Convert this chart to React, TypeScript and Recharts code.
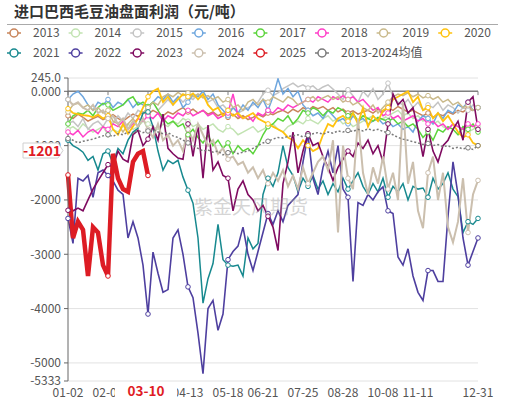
import React from 'react';
import { CartesianGrid, Line, LineChart, ReferenceLine, XAxis, YAxis } from 'recharts';

// x index: one point every ~5 px, 01-02 .. 12-31
const N = 83;
const TICK_IDX = [0, 8, 16, 24, 32, 39, 47, 55, 63, 70, 82];
const TICK_LABELS = ['01-02', '02-05', '03-10', '04-13', '05-18', '06-21', '07-25', '08-28', '10-08', '11-11', '12-31'];
const Y_TICKS = [245, 0, -1000, -2000, -3000, -4000, -5000, -5333];
const LATEST = -1201;

const Y2013 = [
  -450, -500, -420, -480, -550, -500, -460, -520, -480, -430,
  -500, -550, -480, -420, -460, -380, -420, -350, -400, -450,
  -380, -420, -350, -300, -380, -330, -400, -350, -420, -380,
  -450, -400, -480, -420, -500, -450, -520, -480, -430, -470,
  -400, -430, -380, -350, -400, -330, -380, -300, -350, -280,
  -320, -280, -350, -300, -380, -330, -400, -360, -420, -380,
  -350, -400, -330, -380, -300, -350, -280, -330, -380, -350,
  -400, -450, -400, -480, -420, -450, -380, -420, -350, -380,
  -320, -350, -300,
];
const Y2014 = [
  -700, -650, -720, -600, -680, -750, -700, -650, -800, -700,
  -750, -650, -600, -700, -650, -550, -600, -650, -700, -600,
  -650, -550, -600, -500, -550, -650, -600, -700, -650, -600,
  -700, -750, -650, -700, -800, -750, -700, -650, -750, -700,
  -650, -600, -700, -750, -650, -600, -550, -600, -500, -550,
  -600, -500, -450, -550, -500, -600, -550, -650, -600, -550,
  -500, -450, -550, -500, -450, -400, -350, -450, -400, -500,
  -450, -550, -500, -600, -550, -650, -700, -600, -650, -700,
  -750, -700, -650,
];
const Y2015 = [
  -600, -550, -650, -500, -700, -600, -550, -650, -500, -600,
  -450, -550, -400, -500, -350, -400, -300, -200, -350, -250,
  -150, -250, -100, -200, -100, -150, -50, -100, -200, -150,
  -300, -250, -350, -300, -400, -350, -300, -250, -200, -50,
  20, -80, -30, 50, 100, 150, 80, 120, 60, 100,
  20, 80, 120, 40, -50, -150, 30, -80, -200, 0,
  -100, 50, -150, -50, 150, -100, -200, -250, -150, -300,
  -200, -350, -250, -300, -200, -350, -250, -300, -400, -300,
  -350, -250, -300,
];
const Y2016 = [
  -150, -50, 0, -100, -250, -350, -200, -250, -150, -300,
  -200, -250, -150, -300, -200, -250, -300, -200, -100, -150,
  -50, -200, -100, -300, -200, -50, -100, 0, -150, -50,
  -250, -350, -450, -300, -400, -250, -350, -200, -300, -150,
  -350, -100, 230, -50, 50, -100, 0, -250, -350, -450,
  -400, -500, -350, -450, -550, -500, -600, -450, -550, -500,
  -600, -550, -500, -600, -550, -650, -600, -700, -650, -750,
  -550, -450, -500, -600, -400, -500, -350, -400, -250, -300,
  -200, -350, -300,
];
const Y2017 = [
  -600, -450, -400, -420, -350, -450, -300, -220, -250, -350,
  -300, -250, -150, -100, -250, -200, -280, -200, -350, -500,
  -600, -550, -650, -600, -800, -700, -850, -950, -800, -1000,
  -900, -1050, -950, -1150, -1000, -1100, -1050, -1150, -1000, -800,
  -650, -600, -500, -550, -450, -600, -500, -350, -400, -300,
  -350, -450, -350, -400, -300, -350, -450, -400, -550, -450,
  -500, -550, -480, -520, -550, -500, -600, -550, -650, -600,
  -700, -850, -750, -900, -700, -750, -650, -700, -800, -650,
  -700, -600, -750,
];
const Y2018 = [
  -750, -800, -720, -840, -750, -700, -780, -650, -700, -600,
  -650, -550, -700, -600, -500, -550, -450, -500, -400, -550,
  -450, -500, -400, -450, -350, -450, -400, -350, -450, -400,
  -500, -450, -400, -50, -450, -500, -450, -550, -400, -450,
  -350, -400, -300, -350, -250, -300, -250, -200, -150, -200,
  -100, -150, -200, -100, -150, -80, -150, -100, -200, -150,
  -250, -350, -300, -450, -400, -500, -450, -550, -500, -450,
  -550, -500, -600, -550, -650, -600, -700, -600, -650, -700,
  -600, -650, -600,
];
const Y2019 = [
  -380, -250, -220, -300, -250, -350, -300, -400, -350, -550,
  -600, -750, -600, -500, -650, -400, -300, -200, -250, -100,
  -50, -100, -20, -80, -30, -100, -50, -120, -80, -150,
  -100, -200, -150, -300, -250, -350, -200, -150, -250, -150,
  -200, -100, -150, -200, -100, -150, -250, -200, -150, -100,
  -180, -120, -80, -150, -100, -200, -150, -250, -200, -300,
  -350, -250, -400, -300, -200, -100, -50, -80, -30, -100,
  -50, -120, -80, -150, -100, -200, -150, -250, -200, -300,
  -250, -350, -300,
];
const Y2020 = [
  -320, -400, -420, -440, -450, -480, -430, -500, -450, -700,
  -800, -600, -780, -650, -500, -300, -100, 0, 50, -200,
  -100, -250, -150, -50, -100, -40, -150, -50, -250, -350,
  -300, -450, -350, -450, -400, -500, -450, -400, -500, -550,
  -600, -650, -700, -750, -850, -900, -1050, -900, -1000, -1100,
  -1050, -800, -600, -650, -500, -450, -550, -400, -600, -300,
  -650, -450, -550, -350, -300, -150, -100, -50, 0, -200,
  -100, -350, -300, -500, -400, -550, -450, -600, -750, -850,
  -800, -950, -1000,
];
const Y2021 = [
  -900, -1000, -1050, -1120, -1270, -1200, -1450, -1150, -1100, -1330,
  -1050, -1150, -900, -750, -680, -400, -380, -650, -1100, -1450,
  -1270, -1330, -1270, -1580, -1820, -2060, -2700, -3900, -3450, -3170,
  -2450, -3100, -3200, -3220, -3200, -3400, -2700, -2900, -2800, -1900,
  -1600, -1750, -1500, -1000, -1400, -1550, -1850, -1600, -1750, -1550,
  -1800, -1650, -1900, -1700, -1850, -1600, -1800, -1650, -1500, -1750,
  -1900, -1700, -1850, -1600, -1950, -1750, -1850, -1700, -2000, -1750,
  -1800, -1780, -1950, -1600, -1800, -1700, -1500, -1800, -1940, -2600,
  -2400, -2450, -2340,
];
const Y2022 = [
  -2340, -2800, -1600, -1650, -1550, -1950, -1500, -1450, -1550, -1650,
  -1820, -1900, -2700, -2400, -2700, -3200, -4100, -2960, -3350, -3700,
  -3650, -2700, -2550, -3000, -3600, -3800, -4450, -5200, -4000, -3850,
  -4400, -4100, -3100, -2950, -2850, -2500, -3000, -3300, -2950, -2600,
  -2250, -2450, -2200, -2400, -2100, -2000, -1900, -1300, -800, -1600,
  -1900, -1400, -1100, -1500, -1000, -1800, -1950, -3500, -2050, -2100,
  -1900, -2000, -1850, -1760, -2200, -2250, -3050, -3200, -2900, -3400,
  -3700, -3850, -3300, -3300, -3500, -3500, -2300, -1300, -1900, -2700,
  -3200, -2950, -2700,
];
const Y2023 = [
  -2190, -2200, -2150, -2200, -2000, -1800, -1650, -1500, -1350, -1400,
  -1100, -1250, -1300, -800, -720, -1000, -880, -650, -900, -420,
  -1050, -1150, -1230, -1250, -600, -1200, -620, -1600, -620, -1450,
  -1300, -1550, -1600, -2200, -1800, -1650, -1900, -2000, -2200, -2100,
  -2300, -2500, -2930, -1700, -1300, -750, -1500, -1100, -780, -1000,
  -950, -1200, -1400, -1640, -1400, -1250, -1100, -1200, -950, -1050,
  -900, -1150, -1000, -1300, -600, -50, -250, -150, -400, -300,
  -700, -1200, -700, -1100, -1300, -1000, -900, -700, -550, -900,
  -200, -100, -700,
];
const Y2024 = [
  -150, -250, -200, -300, -350, -250, -400, -350, -500, -450,
  -600, -500, -700, -550, -650, -500, -700, -850, -600, -900,
  -800, -1000, -900, -1100, -700, -900, -600, -800, -1000, -900,
  -1150, -1050, -1250, -1200, -1350, -1300, -1500, -1400, -1600, -1450,
  -1700, -1500, -1650, -1450, -1750, -1550, -1800, -1400, -1700, -1500,
  -1300, -1200, -1450, -900, -2600, -1000, -1600, -1800, -500, -1500,
  -1900, -1400, -1700, -1200, -1800, -1500, -2000, -200, -1700, -1300,
  -2200, -2520, -1500, -1200, -2000, -1500, -2500, -2780, -2400, -1600,
  -2600, -1900, -1640,
];
const Y2025 = [
  -1540, -2700, -2400, -2550, -3400, -2500, -2600, -3200, -3400, -1150,
  -1600, -1800, -1850, -1300, -1150, -1100, -1550,
];
const AVG = [
  -870, -900, -950, -920, -900, -880, -850, -820, -800, -830,
  -780, -800, -750, -780, -720, -760, -730, -700, -750, -780,
  -760, -820, -850, -900, -950, -1000, -1050, -1100, -1080, -1120,
  -1100, -1170, -1130, -1100, -1150, -1120, -1100, -1050, -1000, -950,
  -920, -880, -850, -860, -830, -820, -800, -840, -810, -780,
  -760, -790, -750, -770, -730, -750, -720, -740, -700, -730,
  -690, -720, -700, -740, -760, -800, -850, -880, -900, -930,
  -950, -980, -960, -1000, -980, -1020, -1000, -1050, -1030, -1060,
  -1040, -1070, -1000,
];

const SERIES = [
  { key: '2013', color: '#c8845a', values: Y2013, width: 1.5 },
  { key: '2014', color: '#c2e3b2', values: Y2014, width: 1.5 },
  { key: '2015', color: '#c4c4c4', values: Y2015, width: 1.5 },
  { key: '2016', color: '#6ea6de', values: Y2016, width: 1.5 },
  { key: '2017', color: '#5cd43c', values: Y2017, width: 1.5 },
  { key: '2018', color: '#ff3fc8', values: Y2018, width: 1.5 },
  { key: '2019', color: '#c9b98a', values: Y2019, width: 1.5 },
  { key: '2020', color: '#ffc20e', values: Y2020, width: 1.8 },
  { key: '2021', color: '#17898f', values: Y2021, width: 1.5 },
  { key: '2022', color: '#4e3f9f', values: Y2022, width: 1.6 },
  { key: '2023', color: '#7f0b60', values: Y2023, width: 1.6 },
  { key: '2024', color: '#cbbfae', values: Y2024, width: 2 },
  { key: '2025', color: '#dd1c24', values: Y2025, width: 4.5 },
  { key: '2013-2024均值', color: '#7a7a7a', values: AVG, width: 1.5, dash: '2 2' },
];

const data = Array.from({ length: N }, (_, i) => {
  const row: any = { i };
  SERIES.forEach((s) => {
    row[s.key] = i < s.values.length ? s.values[i] : null;
  });
  return row;
});

const dotFor = (color: string, last: number) => (props: any) => {
  const { cx, cy, index } = props;
  if (cy == null || !(index % 8 === 0 || index === last)) return <g key={index} />;
  return <circle key={index} cx={cx} cy={cy} r={2.3} fill="#fff" stroke={color} strokeWidth={1} />;
};

const fmtY = (v: number) => (v === 245 ? '245.0' : v === 0 ? '0.000' : String(v));
const fmtX = (v: number) => (v === 16 ? '' : TICK_LABELS[TICK_IDX.indexOf(v)] ?? '');

function Overlay() {
  return (
    <svg width={510} height={399} style={{ position: 'absolute', left: 0, top: 0, pointerEvents: 'none' }}>
      <text x={14} y={16.5} fontSize={15} fontWeight="bold" fill="#333">进口巴西毛豆油盘面利润（元/吨）</text>
      <line x1={7} x2={498} y1={24.5} y2={24.5} stroke="#aaa" />
      {SERIES.map((s, k) => {
        const x0 = 7 + (k % 8) * 61.6;
        const cy = k < 8 ? 33 : 53;
        return (
          <g key={s.key}>
            <line x1={x0} x2={x0 + 14} y1={cy} y2={cy} stroke={s.color} strokeWidth={1.5} />
            <circle cx={x0 + 7} cy={cy} r={4} fill="#fff" stroke={s.color} strokeWidth={1.5} />
            <text x={x0 + 26} y={cy + 4} fontSize={12} fill="#555">{s.key}</text>
          </g>
        );
      })}
      <text x={194} y={214} fontSize={19} fill="#999" opacity={0.4}>紫金天风期货</text>
      <path d="M23,143 H58 L63,150.5 L58,158 H23 Z" fill="#fff" stroke="#d0d0d0" />
      <text x={42} y={155.5} textAnchor="middle" fontSize={14} fontWeight="bold" fill="#e01b24">{LATEST}</text>
      <rect x={115} y={382} width={62} height={17} fill="#fff" />
      <text x={146} y={395.5} textAnchor="middle" fontSize={13.5} fontWeight="bold" fill="#e01b24">{TICK_LABELS[2]}</text>
    </svg>
  );
}

export default function App() {
  return (
    <div style={{ position: 'absolute', left: 0, top: 0, width: 510, height: 399, overflow: 'hidden', background: '#fff', fontFamily: '"Noto Sans CJK SC", "Noto Sans", sans-serif' }}>
      <LineChart width={510} height={399} data={data} margin={{ top: 78, right: 32, left: 0, bottom: 0 }}>
        <CartesianGrid vertical={false} stroke="#e2e2e2" />
        <XAxis
          dataKey="i"
          type="number"
          domain={[0, N - 1]}
          ticks={TICK_IDX}
          interval={0}
          tickFormatter={fmtX}
          axisLine={false}
          tickLine={false}
          tickSize={5}
          height={18}
          tick={{ fontSize: 12, fill: '#555' }}
        />
        <YAxis
          type="number"
          domain={[-5333, 245]}
          ticks={Y_TICKS}
          interval={0}
          allowDataOverflow
          tickFormatter={fmtY}
          width={68}
          tickSize={4}
          tickMargin={3}
          axisLine={{ stroke: '#666' }}
          tickLine={{ stroke: '#666' }}
          tick={{ fontSize: 12, fill: '#555' }}
        />
        <ReferenceLine y={0} stroke="#808080" strokeWidth={1.5} />
        {TICK_IDX.map((t) => (
          <ReferenceLine key={t} segment={[{ x: t, y: 0 }, { x: t, y: -70 }]} stroke="#808080" />
        ))}
        {SERIES.map((s) => (
          <Line
            key={s.key}
            dataKey={s.key}
            type="linear"
            stroke={s.color}
            strokeWidth={s.width}
            strokeDasharray={s.dash}
            dot={dotFor(s.color, s.values.length - 1)}
            activeDot={false}
            connectNulls={false}
            isAnimationActive={false}
          />
        ))}
      </LineChart>
      <Overlay />
    </div>
  );
}
